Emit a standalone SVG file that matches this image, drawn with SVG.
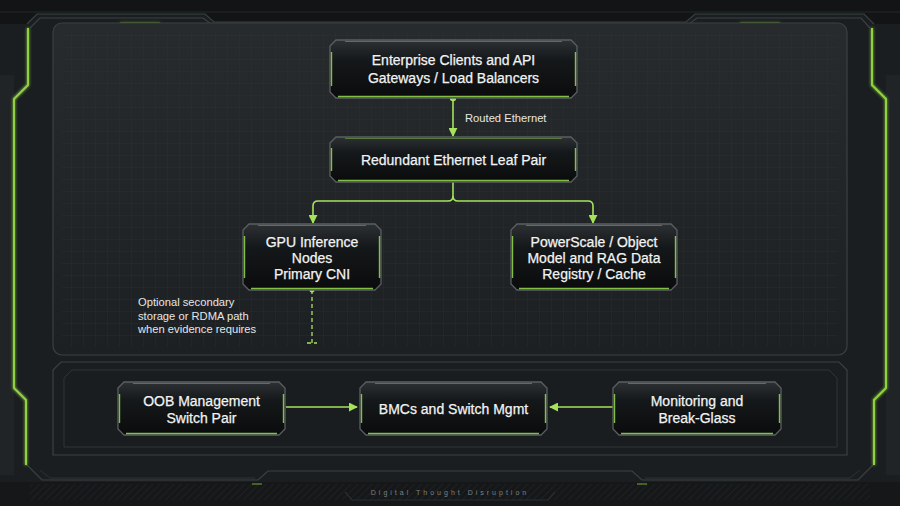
<svg xmlns="http://www.w3.org/2000/svg" width="900" height="506" viewBox="0 0 900 506">
<defs>
  <linearGradient id="panelG" x1="0" y1="0" x2="0" y2="1">
    <stop offset="0" stop-color="#272b2d"/>
    <stop offset="1" stop-color="#1d2022"/>
  </linearGradient>
  <linearGradient id="boxG" x1="0" y1="0" x2="0" y2="1">
    <stop offset="0" stop-color="#2d3133"/>
    <stop offset="0.35" stop-color="#15181a"/>
    <stop offset="1" stop-color="#0a0b0c"/>
  </linearGradient>
  <pattern id="grid" width="12" height="12" patternUnits="userSpaceOnUse">
    <path d="M12 0 V12 M0 12 H12" fill="none" stroke="#30353a" stroke-width="0.6"/>
  </pattern>
  <pattern id="hatch" width="5" height="5" patternUnits="userSpaceOnUse" patternTransform="rotate(45)">
    <path d="M0 0 V5" stroke="#222628" stroke-width="2"/>
  </pattern>
  <filter id="glow" x="-50%" y="-50%" width="200%" height="200%">
    <feGaussianBlur stdDeviation="1.6" result="b"/>
    <feMerge><feMergeNode in="b"/><feMergeNode in="SourceGraphic"/></feMerge>
  </filter>
  <marker id="arr" viewBox="0 0 10 10" refX="9" refY="5" markerWidth="9" markerHeight="9" markerUnits="userSpaceOnUse" orient="auto">
    <path d="M0 0 L10 5 L0 10 Z" fill="#a6e35c"/>
  </marker>
  <style>
    .box{fill:url(#boxG);stroke:#5a5f62;stroke-width:1.3}
    .gr{fill:none;stroke:#8fd34a;stroke-width:1.4;opacity:0.9}
    .grt{fill:none;stroke:#8fd34a;stroke-width:1;opacity:0.45}
    .t{font-family:"Liberation Sans",Arial,sans-serif;font-size:14px;fill:#f1f3f3;stroke:#f1f3f3;stroke-width:0.25;text-anchor:middle}
    .s{font-family:"Liberation Sans",Arial,sans-serif;font-size:11.2px;fill:#e4e7e7}
    .ln{fill:none;stroke:#a6e35c;stroke-width:1.6}
    .fr{fill:none;stroke:#3b4043;stroke-width:1.2}
    .fg{fill:none;stroke:#8fd13f;stroke-width:2}
  </style>
</defs>

<!-- background & frame -->
<rect width="900" height="506" fill="#121415"/>
<path d="M0 24 H27 L37 14 H205 L214 22 H686 L695 14 H864 L874 24 H900 V506 H0 Z" fill="#1b1e20"/>
<rect x="0" y="75" width="14" height="400" fill="#202426"/>
<rect x="886" y="75" width="14" height="400" fill="#202426"/>
<path d="M27 24 L37 14 H205 L214 22 H686 L695 14 H864 L874 24" class="fr"/>
<path d="M30 28 L40 18 H203 L211 24 H689 L697 18 H861 L870 28" class="fr" stroke="#2c3033"/>
<path d="M0 12 H900" stroke="#24282a" stroke-width="1"/>
<!-- bottom frame -->
<rect x="0" y="482" width="900" height="24" fill="#151718"/>
<rect x="30" y="484" width="840" height="16" fill="url(#hatch)" opacity="0.7"/>
<path d="M27 465 L42 480 H258 L268 471 H632 L642 480 H858 L873 465" class="fr"/>
<path d="M40 470 L50 478 H255" fill="none" stroke="#2e3234" stroke-width="1"/>
<path d="M645 478 H850 L860 470" fill="none" stroke="#2e3234" stroke-width="1"/>
<path d="M345 492 L352 500 H548 L555 492" fill="none" stroke="#2b2f31" stroke-width="1.2"/>
<path d="M252 484 H262 M637 484 H647" stroke="#8fd13f" stroke-width="1.2" opacity="0.8"/>
<!-- green frame lines -->
<g filter="url(#glow)">
  <path class="fg" d="M28 28 V85 L14 99 V388 L26 400 V465"/>
  <path class="fg" d="M872 28 V85 L886 99 V388 L874 400 V465"/>
  <path d="M120 23 H160 M740 23 H780" stroke="#8fd13f" stroke-width="1.2" opacity="0.7"/>
</g>

<!-- upper panel -->
<rect x="53" y="23" width="794" height="332" rx="9" fill="url(#panelG)" stroke="#3b4043" stroke-width="1.2"/>
<rect x="62" y="32" width="776" height="314" rx="4" fill="url(#grid)" opacity="0.8"/>

<!-- lower panel -->
<path d="M61 362 H839 L847 370 V455 H53 V370 Z" fill="#1b1e20" stroke="#3b4043" stroke-width="1.2"/>
<path d="M72 370 H829 L837 378 V447 H64 V378 Z" fill="#1a1d1f" stroke="#303538" stroke-width="1"/>

<!-- connectors -->
<g id="connectors">
  <circle cx="453" cy="98" r="3.2" fill="#a6e35c"/>
  <line class="ln" x1="453" y1="98" x2="453" y2="136" marker-end="url(#arr)"/>
  <path class="ln" d="M453 182 V196 Q453 201 448 201 H318 Q313 201 313 206 V223" marker-end="url(#arr)"/>
  <path class="ln" d="M453 196 Q453 201 458 201 H588 Q593 201 593 206 V223" marker-end="url(#arr)"/>
  <circle cx="312" cy="290" r="2.5" fill="#a6e35c"/>
  <path d="M312 290 V343 M307 343 H317" fill="none" stroke="#a6e35c" stroke-width="1.3" stroke-dasharray="4 3"/>
  <line class="ln" x1="286" y1="407" x2="357" y2="407" marker-end="url(#arr)"/>
  <line class="ln" x1="613" y1="407" x2="550" y2="407" marker-end="url(#arr)"/>
  <text class="s" x="465" y="122">Routed Ethernet</text>
  <text class="s" x="138" y="306">Optional secondary</text>
  <text class="s" x="138" y="319.5">storage or RDMA path</text>
  <text class="s" x="138" y="333">when evidence requires</text>
</g>

<!-- nodes -->
<g id="n-clients">
  <polygon class="box" points="336,40 571,40 577,46 577,92 571,98 336,98 330,92 330,46"/>
  <path class="gr" d="M338 96.5 H569 M331.5 52 V86 M575.5 52 V86"/>
  <path class="grt" d="M345 41.5 H562"/>
  <text class="t" x="453.5" y="65">Enterprise Clients and API</text>
  <text class="t" x="453.5" y="83">Gateways / Load Balancers</text>
</g>
<g id="n-leaf">
  <polygon class="box" points="336,137 571,137 577,143 577,176 571,182 336,182 330,176 330,143"/>
  <path class="gr" d="M338 180.5 H569 M331.5 148 V171 M575.5 148 V171"/>
  <path class="grt" d="M345 138.5 H562"/>
  <text class="t" x="453.5" y="164.5">Redundant Ethernet Leaf Pair</text>
</g>
<g id="n-gpu">
  <polygon class="box" points="249,224 375,224 381,230 381,284 375,290 249,290 243,284 243,230"/>
  <path class="gr" d="M251 288.5 H373 M244.5 236 V278 M379.5 236 V278"/>
  <path class="grt" d="M258 225.5 H366"/>
  <text class="t" x="312" y="247">GPU Inference</text>
  <text class="t" x="312" y="263">Nodes</text>
  <text class="t" x="312" y="279">Primary CNI</text>
</g>
<g id="n-storage">
  <polygon class="box" points="517,224 671,224 677,230 677,284 671,290 517,290 511,284 511,230"/>
  <path class="gr" d="M519 288.5 H669 M512.5 236 V278 M675.5 236 V278"/>
  <path class="grt" d="M526 225.5 H662"/>
  <text class="t" x="594" y="247">PowerScale / Object</text>
  <text class="t" x="594" y="263">Model and RAG Data</text>
  <text class="t" x="594" y="279">Registry / Cache</text>
</g>
<g id="n-oob">
  <polygon class="box" points="124,382 279,382 285,388 285,429 279,435 124,435 118,429 118,388"/>
  <path class="gr" d="M126 433.5 H277 M119.5 394 V423 M283.5 394 V423"/>
  <path class="grt" d="M133 383.5 H270"/>
  <text class="t" x="201.5" y="405.5">OOB Management</text>
  <text class="t" x="201.5" y="422.5">Switch Pair</text>
</g>
<g id="n-bmc">
  <polygon class="box" points="366,382 541,382 547,388 547,429 541,435 366,435 360,429 360,388"/>
  <path class="gr" d="M368 433.5 H539 M361.5 394 V423 M545.5 394 V423"/>
  <path class="grt" d="M375 383.5 H532"/>
  <text class="t" x="453.5" y="413.5">BMCs and Switch Mgmt</text>
</g>
<g id="n-monitor">
  <polygon class="box" points="619,382 775,382 781,388 781,429 775,435 619,435 613,429 613,388"/>
  <path class="gr" d="M621 433.5 H773 M614.5 394 V423 M779.5 394 V423"/>
  <path class="grt" d="M628 383.5 H766"/>
  <text class="t" x="697" y="405.5">Monitoring and</text>
  <text class="t" x="697" y="422.5">Break-Glass</text>
</g>

<text x="450" y="495" font-family="Liberation Sans,Arial,sans-serif" font-size="7" fill="#7d8385" text-anchor="middle" letter-spacing="3">Digital Thought Disruption</text>
</svg>
